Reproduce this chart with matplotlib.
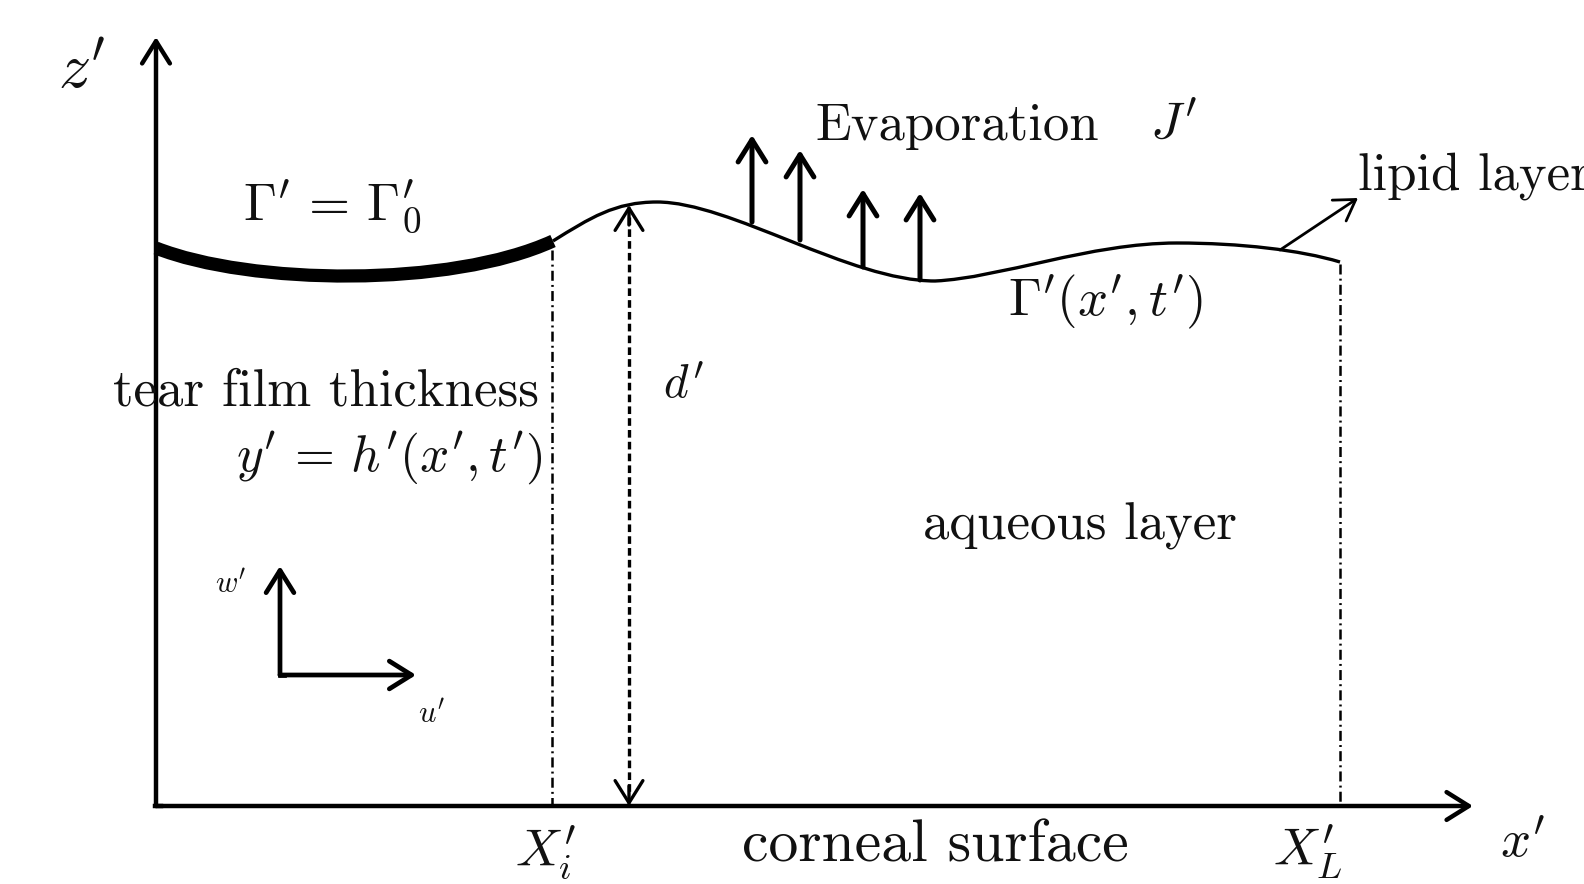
import matplotlib
matplotlib.use('Agg')
import matplotlib.pyplot as plt
from matplotlib.path import Path
from matplotlib.patches import PathPatch

plt.rcParams['mathtext.fontset'] = 'cm'
plt.rcParams['lines.scale_dashes'] = False
plt.rcParams['axes.unicode_minus'] = False

# frame of the sketch (pixel units, y grows downward)
origin = (156, 806)
z_top = 37
x_end = 1473

# surface: thick part (Gamma' = Gamma'_0) and thin part, as cubic bezier chains
thick_pts = [(156, 248), (250, 285), (450, 288), (553, 241)]
thin_pts = [(553, 241), (590, 218), (615, 202), (657, 202),
            (730, 202), (850, 281), (935, 281),
            (1000, 278), (1090, 243), (1177, 243),
            (1240, 243), (1300, 250), (1340, 262)]

# evaporation arrows
evap_x = [752, 800, 863, 920]
evap_base = [222, 240, 267, 280]
evap_tip = [135, 150, 189, 193]

# vertical markers
xi_x, xi_top = 552, 250
xl_x, xl_top = 1340, 264
d_x, d_top = 629, 205

# lipid arrow, small u/w frame
lipid_tail, lipid_head = (1280, 250), (1358, 198)
uw_corner, w_tip, u_tip = (280, 675), (280, 566), (416, 675)

# labels: x, y(baseline), text, size
labels = [
    (58, 88, r"$z'$", 46),
    (243, 220, r"$\Gamma' \,=\, \Gamma_0'$", 38),
    (815, 140, "Evaporation", 38),
    (1150, 138, r"$J'$", 38),
    (1358, 190, "lipid layer", 38),
    (1008, 315, r"$\Gamma'(x', t')$", 38),
    (113, 405, "tear film thickness", 38),
    (236, 470, r"$y' \,=\, h'(x', t')$", 37),
    (663, 398, r"$d'$", 34),
    (923, 540, "aqueous layer", 38),
    (215, 592, r"$w'$", 22),
    (418, 722, r"$u'$", 22),
    (515, 866, r"$X_i'$", 38),
    (742, 862, "corneal surface", 43),
    (1273, 866, r"$X_L'$", 38),
    (1500, 857, r"$x'$", 38),
]

fig = plt.figure(figsize=(15.84, 8.84), dpi=100)
ax = fig.add_axes([0, 0, 1, 1])
ax.set_xlim(0, 1584)
ax.set_ylim(884, 0)
ax.axis('off')


def bezier(pts, lw):
    codes = [Path.MOVETO] + [Path.CURVE4] * (len(pts) - 1)
    ax.add_patch(PathPatch(Path(pts, codes), fill=False, lw=lw,
                           edgecolor='black', capstyle='butt', joinstyle='round'))


def arrow(tail, head, lw, ms=20, style='->,head_length=0.8,head_width=0.5'):
    ax.annotate('', xy=head, xytext=tail,
                arrowprops=dict(arrowstyle=style, lw=lw, color='black',
                                shrinkA=0, shrinkB=0, mutation_scale=ms))


# axes
arrow(origin, (origin[0], z_top), 3.2)
arrow(origin, (x_end, origin[1]), 3.2)
ax.plot([origin[0] - 1, origin[0] + 5], [origin[1], origin[1]], color='black', lw=3.2,
        solid_capstyle='projecting')

# surface
bezier(thick_pts, 9.5)
bezier(thin_pts, 2.4)

# dash-dot markers at X_i' and X_L'
dashdot = (0, (7.2, 3.0, 1.4, 3.0))
ax.plot([xi_x, xi_x], [xi_top, origin[1]], color='black', lw=1.8, linestyle=dashdot)
ax.plot([xl_x, xl_x], [xl_top, origin[1]], color='black', lw=1.8, linestyle=dashdot)

# d' dashed double arrow
ax.plot([d_x, d_x], [d_top + 12, origin[1] - 12], color='black', lw=2.4,
        linestyle=(0, (5.5, 3.0)))
arrow((d_x, d_top + 20), (d_x, d_top), 2.4)
arrow((d_x, origin[1] - 20), (d_x, origin[1]), 2.4)

# evaporation
for x, b, t in zip(evap_x, evap_base, evap_tip):
    arrow((x, b), (x, t), 3.6)

# lipid layer pointer
arrow(lipid_tail, lipid_head, 2.0, ms=18)

# small velocity frame
arrow(uw_corner, w_tip, 3.4)
arrow(uw_corner, u_tip, 3.4)
ax.plot([uw_corner[0], uw_corner[0] + 4], [uw_corner[1], uw_corner[1]], color='black', lw=3.4)

for x, y, s, size in labels:
    ax.text(x, y, s, fontsize=size, family='cmr10', ha='left', va='baseline',
            color='#111111')

fig.savefig('out.png', dpi=100)
